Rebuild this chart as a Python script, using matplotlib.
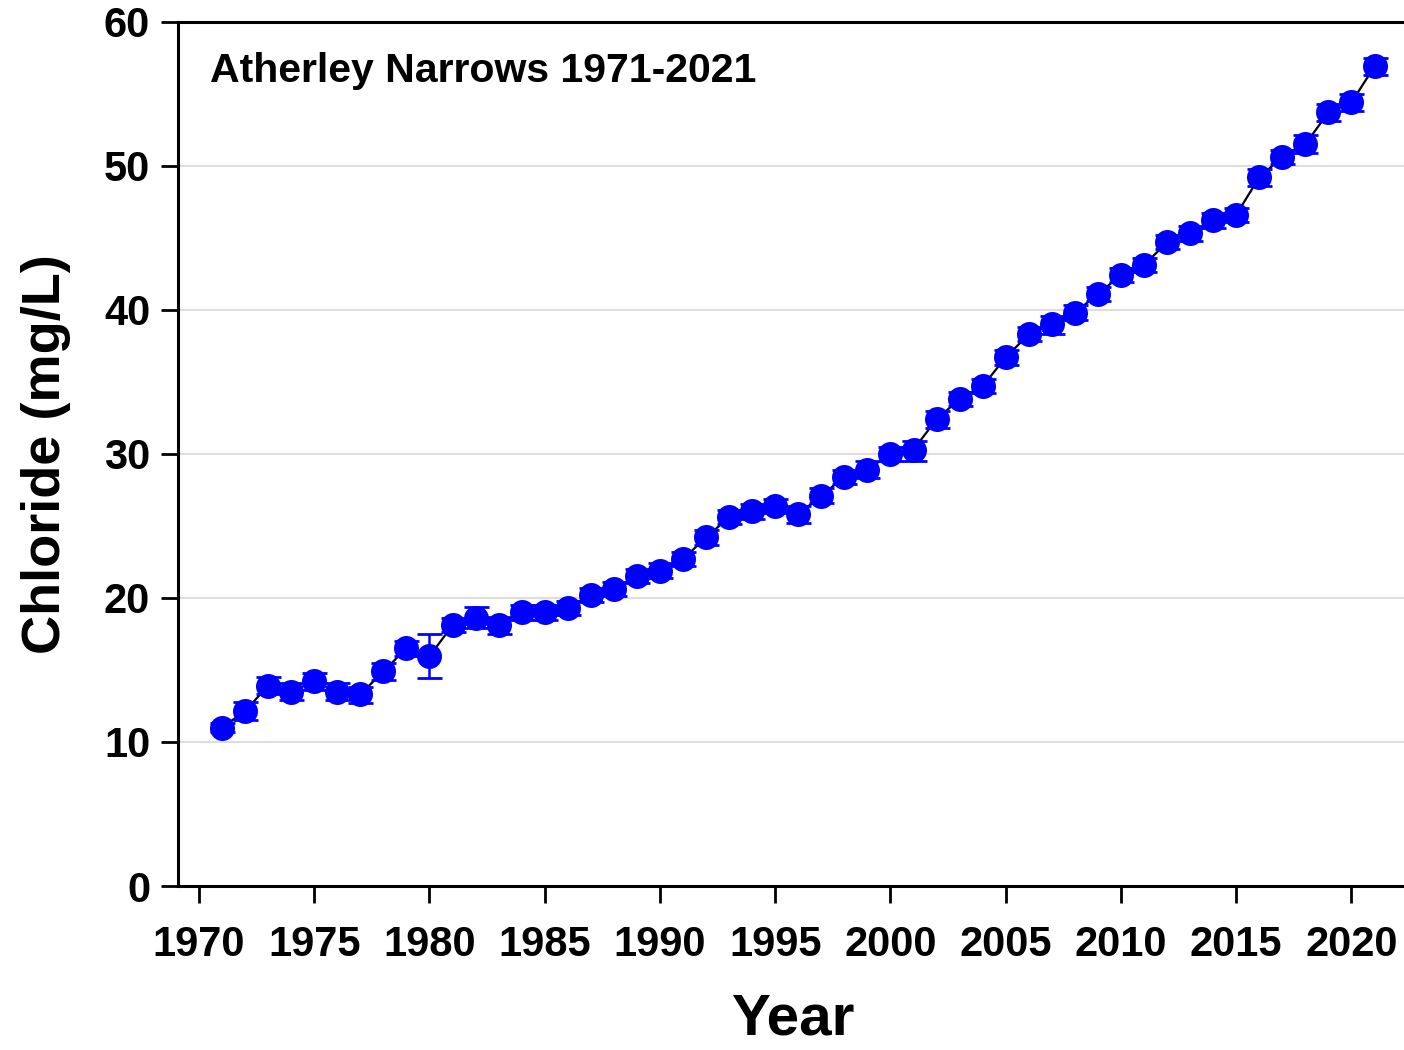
import matplotlib
matplotlib.use("Agg")
import matplotlib.pyplot as plt
import numpy as np

years = list(range(1971, 2022))
chloride = [11.0, 12.15, 13.9, 13.5, 14.2, 13.5, 13.3, 14.9, 16.5, 15.95,
            18.1, 18.6, 18.1, 19.0, 19.0, 19.3, 20.2, 20.6, 21.5, 21.9,
            22.7, 24.2, 25.6, 26.0, 26.4, 25.8, 27.1, 28.4, 28.9, 30.0,
            30.3, 32.4, 33.8, 34.7, 36.7, 38.3, 39.0, 39.8, 41.1, 42.4,
            43.1, 44.7, 45.3, 46.2, 46.6, 49.2, 50.6, 51.5, 53.7, 54.4,
            56.9]
err_low = [0.3, 0.6, 0.6, 0.6, 0.6, 0.6, 0.6, 0.6, 0.5, 1.5,
           0.5, 0.7, 0.6, 0.5, 0.5, 0.5, 0.5, 0.5, 0.5, 0.5,
           0.5, 0.5, 0.5, 0.5, 0.5, 0.6, 0.5, 0.5, 0.6, 0.5,
           0.8, 0.6, 0.5, 0.5, 0.5, 0.5, 0.7, 0.5, 0.5, 0.5,
           0.5, 0.5, 0.5, 0.5, 0.5, 0.6, 0.5, 0.6, 0.6, 0.6,
           0.6]
err_high = [0.3, 0.6, 0.6, 0.6, 0.6, 0.6, 0.5, 0.6, 0.5, 1.55,
            0.5, 0.8, 0.6, 0.5, 0.5, 0.5, 0.5, 0.5, 0.5, 0.5,
            0.5, 0.5, 0.5, 0.5, 0.5, 0.6, 0.5, 0.5, 0.6, 0.5,
            0.6, 0.6, 0.5, 0.5, 0.5, 0.5, 0.6, 0.5, 0.5, 0.5,
            0.5, 0.5, 0.5, 0.5, 0.5, 0.6, 0.5, 0.6, 0.6, 0.6,
            0.6]
xticks = [1970, 1975, 1980, 1985, 1990, 1995, 2000, 2005, 2010, 2015, 2020]
yticks = [0, 10, 20, 30, 40, 50, 60]

plt.rcParams['font.family'] = ['Liberation Sans', 'DejaVu Sans']
plt.rcParams['font.weight'] = 'bold'

fig = plt.figure(figsize=(14.04, 10.5), dpi=100)
ax = fig.add_axes([178/1404, 1-886/1050, 1-178/1404 + 0.002, (886-21.7)/1050])

ax.plot(years, chloride, color='black', lw=1.6, zorder=3)
ax.errorbar(years, chloride, yerr=[err_low, err_high], fmt='none',
            ecolor='#0000ff', elinewidth=1.8, capsize=9, capthick=2.0, zorder=4)
ax.plot(years, chloride, 'o', color='#0000ff', markersize=18,
        markeredgewidth=0, zorder=5)

ax.set_xlim(1969.09, 2022.4)
ax.set_ylim(0, 60)
ax.set_xticks(xticks)
ax.set_yticks(yticks)
for y in yticks[1:-1]:
    ax.axhline(y, color='#dddddd', lw=1.5, zorder=1)

ax.spines['right'].set_visible(False)
for s in ['left', 'bottom', 'top']:
    ax.spines[s].set_linewidth(2.2)
ax.tick_params(axis='both', direction='out', length=12, width=2, labelsize=30)
ax.tick_params(axis='x', pad=16)
ax.tick_params(axis='y', pad=8)
for lbl in ax.get_xticklabels() + ax.get_yticklabels():
    lbl.set_fontweight('bold')

ax.set_xlabel('Year', fontsize=42, fontweight='bold', labelpad=20)
ax.set_ylabel('Chloride (mg/L)', fontsize=39, fontweight='bold', labelpad=24)
ax.text(0.026, 0.943, 'Atherley Narrows 1971-2021', transform=ax.transAxes,
        fontsize=29.5, fontweight='bold', ha='left', va='center')

fig.savefig('out.png', dpi=100)
